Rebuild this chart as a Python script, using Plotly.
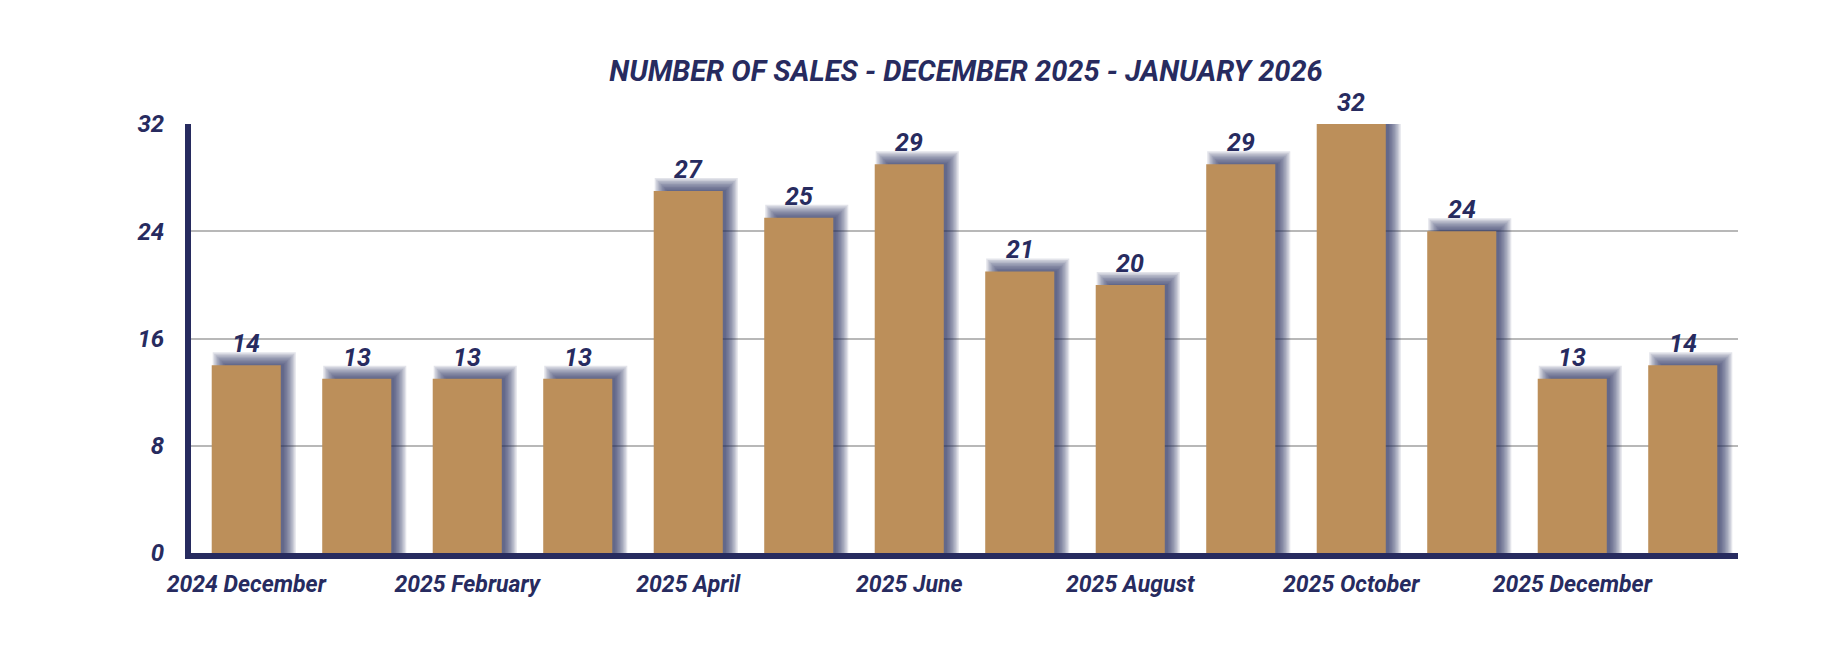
import plotly.graph_objects as go

categories = ["2024 December", "2025 January", "2025 February", "2025 March",
              "2025 April", "2025 May", "2025 June", "2025 July", "2025 August",
              "2025 September", "2025 October", "2025 November", "2025 December",
              "2026 January"]
sales = [14, 13, 13, 13, 27, 25, 29, 21, 20, 29, 32, 24, 13, 14]
y_ticks = [0, 8, 16, 24, 32]
title_text = "NUMBER OF SALES - DECEMBER 2025 - JANUARY 2026"

NAVY = "#272b5f"
GOLD = "#bc8f5a"
GRID = "#b8b8b8"

W, H = 1840, 668
OFF = 8  # page body margin compensation
L, R, T, B = 191 - OFF, 102 + OFF, 124 - OFF, 115 + OFF
plot_w = W - L - R
plot_h = H - T - B
n = len(categories)
px_per_cat = plot_w / n
px_per_unit = plot_h / 32.0
bar_w = 0.625

xs = list(range(n))
fig = go.Figure()

# blurred shadow layers (shadow = bar shifted right/up, blurred)
shadow_dx = 8 / px_per_cat
for s in [7, 5.5, 4, 2.5, 1, -0.5, -2, -3.5, -5]:
    fig.add_trace(go.Bar(
        x=[x + shadow_dx for x in xs],
        y=[v + (6 + s) / px_per_unit for v in sales],
        width=bar_w + 2 * s / px_per_cat,
        marker=dict(color=NAVY, opacity=0.13, line=dict(width=0)),
        hoverinfo="skip", showlegend=False,
    ))

fig.add_trace(go.Bar(
    x=xs, y=sales, width=bar_w,
    marker=dict(color=GOLD, line=dict(width=0)),
    showlegend=False,
))

lab_font = dict(family="Roboto", size=25, color=NAVY, weight="bold", style="italic")
for x, v in zip(xs, sales):
    fig.add_annotation(x=x, y=v, text=str(v), showarrow=False,
                       xanchor="center", yanchor="bottom", yshift=5,
                       font=lab_font)

tick_font = dict(family="Roboto", size=24, color=NAVY, weight="bold", style="italic")
fig.update_layout(
    width=W, height=H,
    barmode="overlay",
    plot_bgcolor="white", paper_bgcolor="white",
    margin=dict(l=L, r=R, t=T, b=B),
    title=dict(text=title_text, x=(966 - OFF) / W, xanchor="center",
               y=1 - (71 - OFF) / H, yanchor="middle", yref="container",
               font=dict(family="Roboto", size=29, color=NAVY, weight="bold", style="italic")),
    font=dict(family="Roboto", color=NAVY),
)
fig.update_xaxes(
    range=[-0.5, n - 0.5],
    tickmode="array", tickvals=xs[::2], ticktext=categories[::2],
    showgrid=False, zeroline=False,
    showline=True, linecolor=NAVY, linewidth=6,
    ticks="", ticklabelstandoff=5,
    tickfont=dict(family="Roboto", size=23, color=NAVY, weight="bold", style="italic"),
)
fig.update_yaxes(
    range=[0, 32],
    tickmode="array", tickvals=y_ticks,
    showgrid=True, gridcolor=GRID, gridwidth=2,
    zeroline=False,
    showline=True, linecolor=NAVY, linewidth=6,
    ticks="", ticklabelstandoff=16,
    tickfont=tick_font,
)

fig.write_html("out.html")
